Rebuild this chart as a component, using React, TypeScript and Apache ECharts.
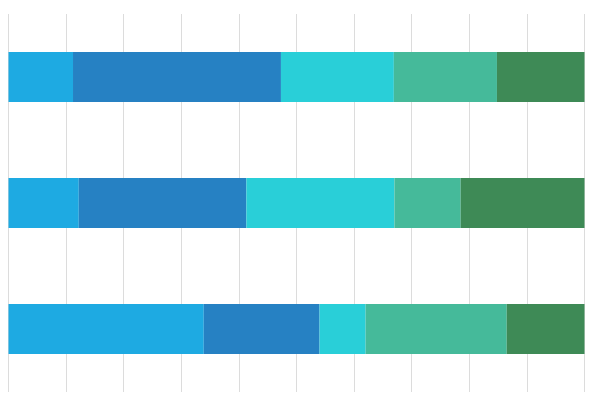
import React, { useEffect, useRef } from "react";
import * as echarts from "echarts";

const categories = ["Row 1", "Row 2", "Row 3"];
const seriesNames = ["Segment 1", "Segment 2", "Segment 3", "Segment 4", "Segment 5"];
const segment1 = [11.2, 12.2, 33.9];
const segment2 = [36.1, 29.1, 20.1];
const segment3 = [19.6, 25.7, 8.0];
const segment4 = [17.9, 11.5, 24.5];
const segment5 = [15.2, 21.5, 13.5];
const colors = ["#1eaae2", "#2681c3", "#29cfd8", "#45ba9a", "#3e8a56"];

export default function App() {
  const ref = useRef<HTMLDivElement>(null);
  useEffect(() => {
    if (!ref.current) return;
    const chart = echarts.init(ref.current, null, { renderer: "svg" });
    const values = [segment1, segment2, segment3, segment4, segment5];
    chart.setOption({
      animation: false,
      grid: { left: 8.5, right: 15.5, top: 14, bottom: 8, containLabel: false },
      xAxis: {
        type: "value",
        min: 0,
        max: 100,
        interval: 10,
        axisLabel: { show: false },
        axisLine: { show: false },
        axisTick: { show: false },
        splitLine: { show: true, lineStyle: { color: "#dcdcdc", width: 1 } },
      },
      yAxis: {
        type: "category",
        data: categories,
        inverse: true,
        axisLabel: { show: false },
        axisLine: { show: false },
        axisTick: { show: false },
        splitLine: { show: false },
      },
      series: values.map((v, i) => ({
        name: seriesNames[i],
        type: "bar",
        stack: "total",
        data: v,
        barWidth: 50,
        itemStyle: { color: colors[i] },
      })),
    });
    return () => chart.dispose();
  }, []);
  return <div ref={ref} style={{ width: 600, height: 400, position: "absolute", left: 0, top: 0 }} />;
}
